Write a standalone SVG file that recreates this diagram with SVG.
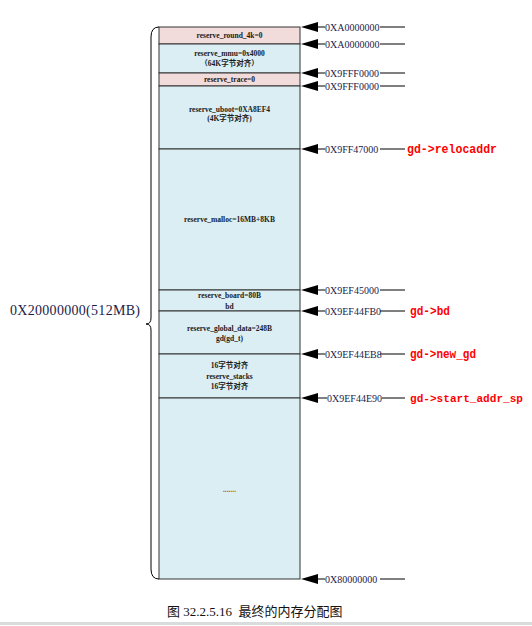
<svg xmlns="http://www.w3.org/2000/svg" width="532" height="626" viewBox="0 0 532 626">
  <style>
    .cell-pink { fill: #f2dcdb; stroke: #333; stroke-width: 1; }
    .cell-blue { fill: #dbeef4; stroke: #333; stroke-width: 1; }
    .lbl { font-family: "Liberation Serif", "Noto Sans CJK SC", serif; font-size: 7.5px; fill: #1a1a1a; text-anchor: middle; font-weight: bold; }
    .addr { font-family: "Liberation Serif", serif; font-size: 10px; fill: #1c1c4a; }
    .ptr { font-family: "Liberation Mono", "DejaVu Sans Mono", monospace; font-size: 12.5px; font-weight: bold; fill: #ff0000; }
    .conn { stroke: #000; stroke-width: 1; fill: none; }
    .cap { font-family: "Liberation Serif", "Noto Sans CJK SC", serif; font-size: 13px; fill: #111; white-space: pre; }
  </style>
  <defs>
    <!-- arrowhead pointing left, tip at origin -->
    <path id="ah" d="M0,0 L17,-5 L17,5 Z" fill="#000"/>
  </defs>

  <!-- memory column -->
  <g id="mem-round4k">
    <rect class="cell-pink" x="159" y="27" width="141" height="17"/>
    <text class="lbl" x="229.5" y="38">reserve_round_4k=0</text>
  </g>
  <g id="mem-mmu">
    <rect class="cell-blue" x="159" y="44" width="141" height="29"/>
    <text class="lbl" x="229.5" y="56">reserve_mmu=0x4000</text>
    <text class="lbl" x="229.5" y="66">（64K字节对齐）</text>
  </g>
  <g id="mem-trace">
    <rect class="cell-pink" x="159" y="73" width="141" height="13"/>
    <text class="lbl" x="229.5" y="82">reserve_trace=0</text>
  </g>
  <g id="mem-uboot">
    <rect class="cell-blue" x="159" y="86" width="141" height="63"/>
    <text class="lbl" x="229.5" y="112">reserve_uboot=0XA8EF4</text>
    <text class="lbl" x="229.5" y="121">(4K字节对齐)</text>
  </g>
  <g id="mem-malloc">
    <rect class="cell-blue" x="159" y="149" width="141" height="141"/>
    <text class="lbl" x="229.5" y="222">reserve_malloc=16MB+8KB</text>
  </g>
  <g id="mem-board">
    <rect class="cell-blue" x="159" y="290" width="141" height="21"/>
    <text class="lbl" x="229.5" y="298">reserve_board=80B</text>
    <text class="lbl" x="229.5" y="309">bd</text>
  </g>
  <g id="mem-gd">
    <rect class="cell-blue" x="159" y="311" width="141" height="43"/>
    <text class="lbl" x="229.5" y="331">reserve_global_data=248B</text>
    <text class="lbl" x="229.5" y="341">gd(gd_t)</text>
  </g>
  <g id="mem-stacks">
    <rect class="cell-blue" x="159" y="354" width="141" height="44"/>
    <text class="lbl" x="229.5" y="368">16字节对齐</text>
    <text class="lbl" x="229.5" y="379">reserve_stacks</text>
    <text class="lbl" x="229.5" y="389">16字节对齐</text>
  </g>
  <g id="mem-free">
    <rect class="cell-blue" x="159" y="398" width="141" height="181"/>
    <text class="lbl" x="229.5" y="492" style="fill:#c06000">.......</text>
  </g>

  <!-- size brace -->
  <g id="brace">
    <path class="conn" d="M159,27 Q151,27 151,37 L151,318 Q151,324 146,324 Q151,324 151,330 L151,569 Q151,579 159,579"/>
    <text x="10" y="315" textLength="130" style="font-family:'Liberation Serif',serif;font-size:14px;fill:#1c1c4a">0X20000000(512MB)</text>
  </g>

  <!-- address connectors -->
  <g id="connectors">
    <g id="a1"><use href="#ah" x="301" y="27"/><line class="conn" x1="318" y1="27" x2="325" y2="27"/><line class="conn" x1="380" y1="27" x2="405" y2="27"/><text class="addr" x="325" y="30.5">0XA0000000</text></g>
    <g id="a2"><use href="#ah" x="301" y="44"/><line class="conn" x1="318" y1="44" x2="325" y2="44"/><line class="conn" x1="380" y1="44" x2="405" y2="44"/><text class="addr" x="325" y="47.5">0XA0000000</text></g>
    <g id="a3"><use href="#ah" x="301" y="73"/><line class="conn" x1="318" y1="73" x2="325" y2="73"/><line class="conn" x1="380" y1="73" x2="405" y2="73"/><text class="addr" x="325" y="76.5">0X9FFF0000</text></g>
    <g id="a4"><use href="#ah" x="301" y="86"/><line class="conn" x1="318" y1="86" x2="325" y2="86"/><line class="conn" x1="380" y1="86" x2="405" y2="86"/><text class="addr" x="325" y="89.5">0X9FFF0000</text></g>
    <g id="a5"><use href="#ah" x="301" y="149"/><line class="conn" x1="318" y1="149" x2="325" y2="149"/><line class="conn" x1="380" y1="149" x2="405" y2="149"/><text class="addr" x="325" y="152.5">0X9FF47000</text></g>
    <g id="a6"><use href="#ah" x="301" y="290"/><line class="conn" x1="318" y1="290" x2="325" y2="290"/><line class="conn" x1="380" y1="290" x2="405" y2="290"/><text class="addr" x="325" y="293.5">0X9EF45000</text></g>
    <g id="a7"><use href="#ah" x="301" y="311"/><line class="conn" x1="318" y1="311" x2="325" y2="311"/><line class="conn" x1="380" y1="311" x2="405" y2="311"/><text class="addr" x="325" y="314.5">0X9EF44FB0</text></g>
    <g id="a8"><use href="#ah" x="301" y="354"/><line class="conn" x1="318" y1="354" x2="325" y2="354"/><line class="conn" x1="380" y1="354" x2="405" y2="354"/><text class="addr" x="325" y="357.5">0X9EF44EB8</text></g>
    <g id="a9"><use href="#ah" x="301" y="398"/><line class="conn" x1="318" y1="398" x2="327" y2="398"/><line class="conn" x1="382" y1="398" x2="405" y2="398"/><text class="addr" x="327" y="401.5">0X9EF44E90</text></g>
    <g id="a10"><use href="#ah" x="301" y="579"/><line class="conn" x1="318" y1="579" x2="325" y2="579"/><line class="conn" x1="380" y1="579" x2="405" y2="579"/><text class="addr" x="325" y="582.5">0X80000000</text></g>
  </g>

  <!-- pointer names -->
  <g id="pointers">
    <text class="ptr" x="407" y="153" textLength="90" lengthAdjust="spacingAndGlyphs">gd-&gt;relocaddr</text>
    <text class="ptr" x="410" y="315" textLength="40" lengthAdjust="spacingAndGlyphs">gd-&gt;bd</text>
    <text class="ptr" x="410" y="358" textLength="66" lengthAdjust="spacingAndGlyphs">gd-&gt;new_gd</text>
    <text class="ptr" x="410" y="402" textLength="113" lengthAdjust="spacingAndGlyphs" style="font-size:11.5px">gd-&gt;start_addr_sp</text>
  </g>

  <!-- caption -->
  <text class="cap" x="167" y="616">图 32.2.5.16  最终的内存分配图</text>
  <line x1="0" y1="623.5" x2="532" y2="623.5" stroke="#d8dcdc" stroke-width="3"/>
</svg>
